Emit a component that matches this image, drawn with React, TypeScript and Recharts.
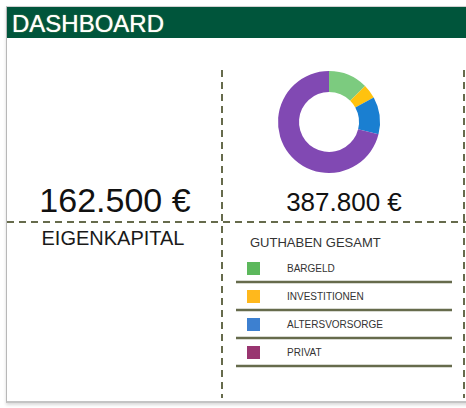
import { PieChart, Pie, Cell } from 'recharts';

const categories = ['BARGELD', 'INVESTITIONEN', 'ALTERSVORSORGE', 'PRIVAT'];
const amounts = [48500, 17500, 46000, 275800];
const sliceColors = ['#7ccb7f', '#ffc20e', '#1a7fd1', '#8149b3'];
const legendColors = ['#5cb85c', '#ffb81c', '#3d80d0', '#993570'];
const equity = '162.500 €';
const totalLabel = '387.800 €';

const olive = '#666b4c';
const font = '"Liberation Sans", Arial, sans-serif';

export default function App() {
  const data = categories.map((name, i) => ({ name, value: amounts[i] }));
  const rowY = [262, 290, 318, 346];

  return (
    <div style={{ position: 'absolute', left: 0, top: 0, width: 466, height: 408, background: '#fff', overflow: 'hidden', fontFamily: font }}>
      {/* frame */}
      <div
        style={{
          position: 'absolute', left: 6, top: 6, width: 470, height: 394,
          borderLeft: '1px solid #b8b8b8', borderTop: '1px solid #d0d0d0', borderBottom: '2px solid #c4c4c4',
          boxShadow: '0 2px 3px rgba(0,0,0,0.15)',
        }}
      />
      {/* header */}
      <div style={{ position: 'absolute', left: 7, top: 7, width: 459, height: 31, background: '#00553b' }} />
      <div style={{ position: 'absolute', left: 12, top: 12, fontSize: 24, lineHeight: '24px', color: '#fff', textShadow: '0 0 1px #e8e8a0' }}>
        DASHBOARD
      </div>

      <svg width={466} height={408} style={{ position: 'absolute', left: 0, top: 0 }}>
        <line x1={7} y1={222} x2={466} y2={222} stroke={olive} strokeWidth={2} strokeDasharray="7 5" />
        <line x1={222} y1={70} x2={222} y2={398} stroke={olive} strokeWidth={2} strokeDasharray="7 5" />
        <line x1={464} y1={70} x2={464} y2={398} stroke={olive} strokeWidth={2} strokeDasharray="7 5" />
        {rowY.map((y) => (
          <line key={y} x1={236} y1={y + 20} x2={452} y2={y + 20} stroke={olive} strokeWidth={2.5} />
        ))}
      </svg>

      <div style={{ position: 'absolute', left: 269, top: 62 }}>
        <PieChart width={120} height={120} margin={{ top: 0, right: 0, bottom: 0, left: 0 }}>
          <Pie
            data={data}
            dataKey="value"
            nameKey="name"
            cx="50%"
            cy="50%"
            innerRadius={30}
            outerRadius={51}
            startAngle={90}
            endAngle={-270}
            stroke="none"
            isAnimationActive={false}
          >
            {data.map((d, i) => (
              <Cell key={d.name} fill={sliceColors[i]} />
            ))}
          </Pie>
        </PieChart>
      </div>

      <div style={{ position: 'absolute', left: 15, width: 200, top: 183, fontSize: 34, lineHeight: '34px', textAlign: 'center', color: '#111' }}>
        {equity}
      </div>
      <div style={{ position: 'absolute', left: 13, width: 200, top: 228, fontSize: 20, lineHeight: '20px', textAlign: 'center', color: '#1a1a1a' }}>
        EIGENKAPITAL
      </div>
      <div style={{ position: 'absolute', left: 244, width: 200, top: 189, fontSize: 26, lineHeight: '26px', textAlign: 'center', color: '#111' }}>
        {totalLabel}
      </div>

      <div style={{ position: 'absolute', left: 250, top: 236, fontSize: 13, lineHeight: '13px', color: '#333' }}>
        GUTHABEN GESAMT
      </div>
      {categories.map((c, i) => (
        <div key={c}>
          <div style={{ position: 'absolute', left: 247, top: rowY[i], width: 13, height: 13, background: legendColors[i] }} />
          <div style={{ position: 'absolute', left: 287, top: rowY[i] + 1.5, fontSize: 10, lineHeight: '10px', color: '#333' }}>{c}</div>
        </div>
      ))}
    </div>
  );
}
